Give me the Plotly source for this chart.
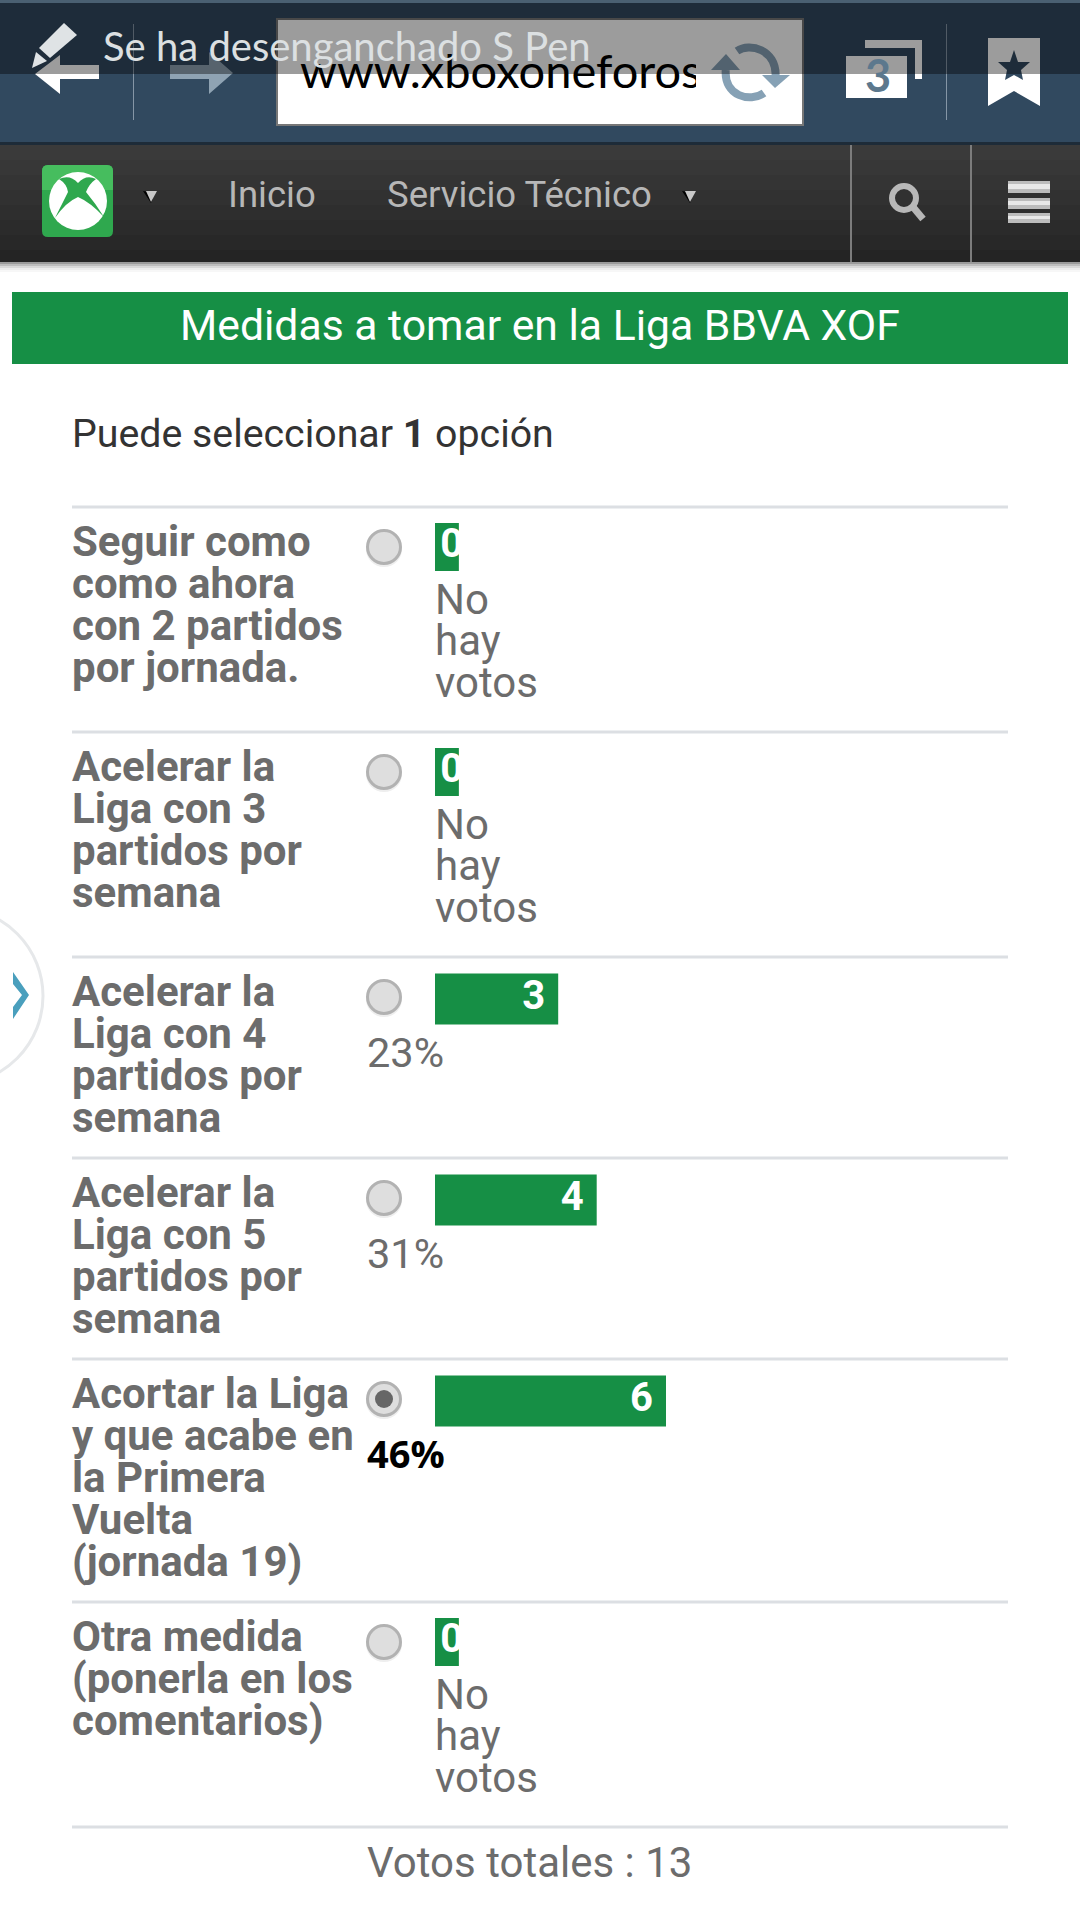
import plotly.graph_objects as go

# poll data
row_labels = [
    ["Seguir como", "como ahora", "con 2 partidos", "por jornada."],
    ["Acelerar la", "Liga con 3", "partidos por", "semana"],
    ["Acelerar la", "Liga con 4", "partidos por", "semana"],
    ["Acelerar la", "Liga con 5", "partidos por", "semana"],
    ["Acortar la Liga", "y que acabe en", "la Primera", "Vuelta", "(jornada 19)"],
    ["Otra medida", "(ponerla en los", "comentarios)"],
]
votes = [0, 0, 3, 4, 6, 0]
percents = ["", "", "23%", "31%", "46%", ""]
# bar lengths as drawn on the page, in votes (empty bars keep their padding)
bar_lengths = [0.62, 0.62, 3.2, 4.2, 6, 0.62]
selected_row = 4
total_text = "Votos totales : 13"
title_text = "Medidas a tomar en la Liga BBVA XOF"
url_text = "www.xboxoneforos"
pen_text = "Se ha desenganchado S Pen"

# page layout, pixels
row_tops = [506, 731, 956, 1157, 1358, 1601, 1826]
FONT = "Roboto"
GREY = "#6c6c6c"
GREEN = "#168f45"
px_per_vote = 38.5
bar_left = 435

shapes = []
annotations = []


def rect(x0, y0, x1, y1, color, layer="above", line=None):
    shapes.append(dict(type="rect", x0=x0, y0=y0, x1=x1, y1=y1, fillcolor=color, layer=layer,
                       xref="x", yref="y", line=dict(color=line or color, width=2 if line else 0)))


def path(d, color, layer="above"):
    shapes.append(dict(type="path", path=d, fillcolor=color, layer=layer, xref="x", yref="y",
                       line=dict(width=0)))


def stroke(d, color, width, layer="above"):
    shapes.append(dict(type="path", path=d, layer=layer, xref="x", yref="y",
                       line=dict(color=color, width=width)))


def circle(cx, cy, r, color, line=None, width=0, layer="above"):
    shapes.append(dict(type="circle", x0=cx - r, y0=cy - r, x1=cx + r, y1=cy + r, fillcolor=color,
                       layer=layer, xref="x", yref="y", line=dict(color=line or color, width=width)))


def text(x, y, s, size=42, color=GREY, anchor="left", family=FONT):
    annotations.append(dict(x=x, y=y, text=s, xref="x", yref="y", xanchor=anchor, yanchor="middle",
                            showarrow=False, align=anchor, borderpad=0,
                            font=dict(family=family, size=size, color=color)))


# browser bar
rect(0, 0, 1080, 144, "#31495f", "below")
rect(0, 0, 1080, 3, "#4a6072", "below")
rect(0, 142, 1080, 145, "#1d2b38", "below")
rect(277, 19, 803, 125, "#ffffff", "below", "#777777")
rect(133, 24, 134, 120, "#8596a6", "below")
rect(946, 24, 947, 120, "#8596a6", "below")
rect(696, 22, 760, 122, "#ffffff")  # cuts the address off
stroke("M 737 51 C 750 42 776 50 775.6 75", "#86a1b5", 8)
stroke("M 764 93 C 750 103 724 96 725.7 70", "#86a1b5", 8)
path("M 711 70 L 740 70 L 726 54 Z", "#86a1b5")
path("M 762 75 L 790 75 L 775 88 Z", "#86a1b5")
path("M 35 74 L 60 55 L 60 65 L 99 65 L 99 79 L 60 79 L 60 94 Z", "#ffffff")
path("M 170 65 L 209 65 L 209 52 L 233 73 L 209 94 L 209 79 L 170 79 Z", "#8fa3b3")
path("M 865 40 L 922 40 L 922 79 L 915 79 L 915 48 L 865 48 Z", "#ffffff")
rect(846, 56, 907, 98, "#ffffff")
path("M 988 38 L 1040 38 L 1040 106 L 1014 91 L 988 106 Z", "#ffffff")
path("M 1014 50 L 1018 62 L 1030 62 L 1021 70 L 1023 80 L 1014 75 L 1005 80 L 1007 70 L 998 62 "
     "L 1010 62 Z", "#31495f")
rect(0, 3, 1080, 74, "rgba(0,0,0,0.39)")
path("M 64 23 L 77 35 L 50 58 L 39 48 Z", "#dfe3e5")
path("M 36 52 L 47 61 L 32 68 Z", "#dfe3e5")
text(102, 46, pen_text, size=40, color="#dce0e2", family="Lato")
text(878, 75, "<b>3</b>", size=45, color="#5c788d", anchor="center", family="Lato")

# nav bar
nav_bands = ["#3a3a3a", "#373737", "#343434", "#313131", "#2e2e2e", "#2b2b2b", "#282828", "#242424"]
for i, c in enumerate(nav_bands):
    rect(0, 145 + i * 15, 1080, 145 + (i + 1) * 15, c, "below")
for i, c in enumerate(["#9a9a9a", "#bdbdbd", "#d8d8d8", "#ececec", "#f7f7f7"]):
    rect(0, 262 + i * 2, 1080, 264 + i * 2, c, "below")
rect(850, 145, 852, 262, "#7c7c7c", "below")
rect(970, 145, 972, 262, "#7c7c7c", "below")
path("M 48 165 L 107 165 Q 113 165 113 171 L 113 231 Q 113 237 107 237 L 48 237 "
     "Q 42 237 42 231 L 42 171 Q 42 165 48 165 Z", "#2fa84e")
path("M 48 165 L 107 165 Q 113 165 113 171 L 113 190 L 42 190 L 42 171 Q 42 165 48 165 Z", "#46bd5e")
circle(78, 201, 29, "#ffffff")
path("M 59 179 Q 70 174 78 183 Q 86 174 96 179 Q 89 184 86 192 Q 96 204 104 217 Q 90 202 78 197 "
     "Q 66 202 55 218 Q 62 204 68 192 Q 67 184 59 179 Z", "#2fa84e")
for x in [143, 682]:
    path(f"M {x} 191 L {x + 12} 193 L {x + 8} 203 Z", "#000000")
    path(f"M {x + 3} 191 L {x + 14} 191 L {x + 8} 202 Z", "#c8c8c8")
text(227, 194, "Inicio", size=36.5, color="#b7b7b7")
text(386, 194, "Servicio Técnico", size=36.5, color="#b7b7b7")
circle(904, 198, 12, "rgba(0,0,0,0)", "#b8b8b8", 6)
stroke("M 913 207 L 923 219", "#b8b8b8", 7)
for y0, y1 in [(181, 193), (198, 209), (213, 223)]:
    rect(1008, y0, 1050, y1, "#bcbcbc")
    rect(1008, y0 + 3, 1050, y1 - 4, "#e8e8e8")

# title
rect(12, 292, 1068, 364, GREEN, "below")
text(540, 325, title_text, size=42.7, color="#ffffff", anchor="center")
text(71, 434, "Puede seleccionar <b>1</b> opción", size=39.3, color="#333333")

# poll rows
for top in row_tops:
    rect(72, top - 0.5, 1008, top + 2.5, "#dcdfe3", "below")

bar_y = []
bar_h = []
for i, lines in enumerate(row_labels):
    top = row_tops[i]
    for j, line in enumerate(lines):
        text(71, top + 35 + j * 42, f"<b>{line}</b>")
    cy = top + 41
    circle(384, cy + 2, 18, "#eeeeee")
    circle(384, cy, 16.5, "#dedede", "#b2b2b2", 3)
    if i == selected_row:
        circle(384, cy, 9, "#666666")
    if votes[i] == 0:
        bar_y.append(top + 41)
        bar_h.append(48)
        rect(459, top + 17, 470, top + 65, "#ffffff")  # the 0 overflows its bar
        for j, word in enumerate(["No", "hay", "votos"]):
            text(434, top + 93 + j * 41.5, word)
    else:
        bar_y.append(top + 43)
        bar_h.append(51)
        if i == selected_row:
            text(366, top + 95, f"<b>{percents[i]}</b>", size=38, color="#000000", family="Open Sans")
        else:
            text(366, top + 96, percents[i], size=41.5)

text(529, 1862, total_text, anchor="center")

# drawer handle on the left edge
circle(-45, 996, 88, "#ffffff", "#e6e8ea", 3)
path("M 13 972 L 29 995 L 13 1019 L 13 1007 L 22 995 L 13 984 Z", "#4a9fbd")

fig = go.Figure()
fig.add_trace(go.Scatter(x=[300], y=[76], mode="text", text=[url_text], textposition="middle right",
                         textfont=dict(family="Lato", size=47, color="#000000"),
                         xaxis="x", yaxis="y", hoverinfo="skip", showlegend=False))
fig.add_trace(go.Bar(x=bar_lengths, y=bar_y, width=bar_h, orientation="h", marker_color=GREEN,
                     marker_line_width=0, xaxis="x2", yaxis="y", hoverinfo="skip", showlegend=False))
fig.add_trace(go.Scatter(x=[max(b - 0.34, 0.73) for b in bar_lengths], y=bar_y, mode="text",
                         text=[f"<b>{v}</b>" for v in votes], textposition="middle left",
                         textfont=dict(family=FONT, size=40, color="#ffffff"),
                         xaxis="x2", yaxis="y", hoverinfo="skip", showlegend=False, cliponaxis=False))

fig.update_layout(
    width=1080, height=1920, margin=dict(l=0, r=0, t=0, b=0, pad=0),
    paper_bgcolor="#ffffff", plot_bgcolor="rgba(0,0,0,0)",
    shapes=shapes, annotations=annotations,
    xaxis=dict(range=[0, 1080], domain=[0, 1], visible=False, fixedrange=True),
    xaxis2=dict(range=[0, (1080 - bar_left) / px_per_vote], domain=[bar_left / 1080, 1], anchor="y",
                visible=False, fixedrange=True),
    yaxis=dict(range=[1920, 0], domain=[0, 1], visible=False, fixedrange=True),
)

fig.write_html("out.html", config={"displayModeBar": False},
               post_script="document.body.style.margin='0';")
